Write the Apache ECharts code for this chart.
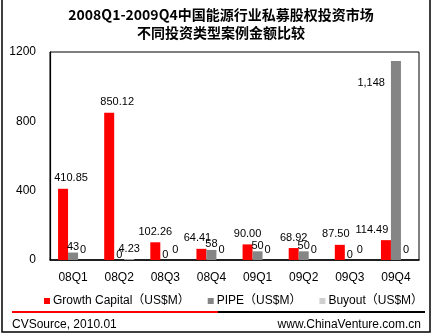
<!DOCTYPE html>
<html>
<head>
<meta charset="utf-8">
<script src="https://cdn.jsdelivr.net/npm/echarts@6/dist/echarts.min.js"></script>
<style>
  html, body { margin: 0; padding: 0; background: #fff; }
  #chart { width: 435px; height: 335px; }
</style>
</head>
<body>
<div id="chart"></div>
<script>
// Quarterly PE investment amounts in China's energy sector, by deal type (US$M)
const quarters = ['08Q1', '08Q2', '08Q3', '08Q4', '09Q1', '09Q2', '09Q3', '09Q4'];
const growthCapital = [410.85, 850.12, 102.26, 64.41, 90.00, 68.92, 87.50, 114.49];
const pipe = [43, 0, 0, 58, 50, 50, 0, 1148];
const buyout = [0, 4.23, 0, 0, 0, 0, 0, 0];
const seriesNames = ['Growth Capital（US$M）', 'PIPE（US$M）', 'Buyout（US$M）'];
const titleLines = ['2008Q1-2009Q4中国能源行业私募股权投资市场', '不同投资类型案例金额比较'];
const sourceText = 'CVSource, 2010.01';
const siteText = 'www.ChinaVenture.com.cn';

const latin = 'Liberation Sans, Arial, Noto Sans CJK SC, sans-serif';
const cjk = 'Noto Sans CJK SC, sans-serif';

// Nudges for labels that would otherwise collide with neighbouring bars
const growthLabelShift = { 0: [8, 0], 1: [8, 0], 3: [-4, 0], 6: [-4, 0], 7: [-14, 0] };

const growthData = growthCapital.map((v, i) => {
  const item = { value: v };
  if (growthLabelShift[i]) item.label = { offset: growthLabelShift[i] };
  return item;
});
const pipeData = pipe.map((v, i) => {
  const item = { value: v };
  if (v > 1000) {
    item.label = { position: [-6, 22], align: 'right', verticalAlign: 'middle' };
  }
  return item;
});

const fmtThousands = v => String(Math.round(v)).replace(/\B(?=(\d{3})+(?!\d))/g, ',');

const chart = echarts.init(document.getElementById('chart'), null, { renderer: 'canvas' });
chart.setOption({
  animation: false,
  backgroundColor: '#ffffff',
  grid: {
    left: 50, right: 16, top: 52, bottom: 75,
    show: true, borderColor: '#000', borderWidth: 1, backgroundColor: 'transparent'
  },
  legend: {
    left: 39, top: 290,
    itemWidth: 6, itemHeight: 6, itemGap: 18,
    icon: 'rect',
    textStyle: { fontFamily: latin, fontSize: 12, color: '#000', padding: [0, 0, 0, -2] },
    data: seriesNames
  },
  xAxis: {
    type: 'category',
    data: quarters,
    axisLine: { lineStyle: { color: '#000', width: 1.5 } },
    axisTick: { show: false },
    axisLabel: { color: '#000', fontFamily: latin, fontSize: 12, margin: 12 }
  },
  yAxis: {
    type: 'value',
    min: 0, max: 1200, interval: 400,
    axisLine: { show: true, lineStyle: { color: '#000', width: 1.2 } },
    axisTick: { show: false },
    splitLine: { show: false },
    axisLabel: { color: '#000', fontFamily: latin, fontSize: 12, margin: 14,
                 formatter: v => String(v) }
  },
  series: [
    {
      name: seriesNames[0], type: 'bar', data: growthData,
      barWidth: 10, barGap: '0%',
      itemStyle: { color: '#ff0000' },
      label: {
        show: true, position: 'top', distance: 5,
        fontFamily: latin, fontSize: 11, color: '#000',
        formatter: p => p.value.toFixed(2)
      }
    },
    {
      name: seriesNames[1], type: 'bar', data: pipeData,
      barWidth: 10, barGap: '0%',
      itemStyle: { color: '#858585' },
      label: {
        show: true, position: 'top', distance: 0,
        fontFamily: latin, fontSize: 11, color: '#000',
        formatter: p => fmtThousands(p.value)
      }
    },
    {
      name: seriesNames[2], type: 'bar', data: buyout,
      barWidth: 10, barGap: '0%',
      itemStyle: { color: '#cfcfcf' },
      label: {
        show: true, position: 'top', distance: 5,
        fontFamily: latin, fontSize: 11, color: '#000',
        formatter: p => (p.value === 0 ? '0' : p.value.toFixed(2))
      }
    }
  ],
  graphic: [
    // outer frame
    { type: 'rect', shape: { x: 2, y: -2, width: 428, height: 334 },
      style: { fill: 'none', stroke: '#000', lineWidth: 1.5 }, silent: true },
    // two-line title
    { type: 'text', x: 221, y: 15,
      style: { text: titleLines[0], font: 'bold 14px ' + cjk, fill: '#000',
               textAlign: 'center', textVerticalAlign: 'middle' } },
    { type: 'text', x: 221, y: 33,
      style: { text: titleLines[1], font: 'bold 14px ' + cjk, fill: '#000',
               textAlign: 'center', textVerticalAlign: 'middle' } },
    // footer rule: red then black
    { type: 'line', shape: { x1: 12, y1: 312, x2: 218, y2: 312 },
      style: { stroke: '#ff0000', lineWidth: 2 } },
    { type: 'line', shape: { x1: 218, y1: 312, x2: 425, y2: 312 },
      style: { stroke: '#000', lineWidth: 2 } },
    // footer texts
    { type: 'text', x: 12, y: 325,
      style: { text: sourceText, font: '12px ' + latin, fill: '#000',
               textAlign: 'left', textVerticalAlign: 'middle' } },
    { type: 'text', x: 421, y: 325,
      style: { text: siteText, font: '12px ' + latin, fill: '#000',
               textAlign: 'right', textVerticalAlign: 'middle' } }
  ]
});
</script>
</body>
</html>
